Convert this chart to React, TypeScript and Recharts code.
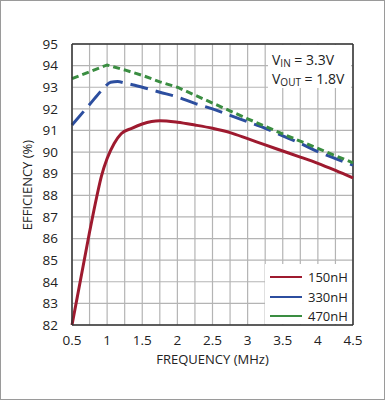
import React from 'react';
import { LineChart, Line, XAxis, YAxis, CartesianGrid, ReferenceLine } from 'recharts';

// frequency grid (MHz), every quarter; only the half steps are labelled
const freqTicks = [0.5, 0.75, 1, 1.25, 1.5, 1.75, 2, 2.25, 2.5, 2.75, 3, 3.25, 3.5, 3.75, 4, 4.25, 4.5];
const effTicks = [82, 83, 84, 85, 86, 87, 88, 89, 90, 91, 92, 93, 94, 95];

// 150nH
const freq150 = [0.5, 0.75, 0.85, 0.92, 1.0, 1.1, 1.2, 1.35, 1.5, 1.75, 2.0, 2.25, 2.5, 2.75, 3.0, 3.25, 3.5, 3.75, 4.0, 4.25, 4.5];
const eff150 = [82.0, 86.3, 87.9, 88.9, 89.7, 90.4, 90.85, 91.1, 91.3, 91.45, 91.38, 91.25, 91.1, 90.9, 90.62, 90.33, 90.05, 89.77, 89.48, 89.15, 88.8];

// 330nH
const freq330 = [0.5, 0.75, 0.95, 1.05, 1.15, 1.25, 1.5, 1.75, 2.0, 2.25, 2.5, 2.75, 3.0, 3.25, 3.5, 3.75, 4.0, 4.25, 4.5];
const eff330 = [91.25, 92.2, 92.95, 93.23, 93.26, 93.2, 93.0, 92.77, 92.55, 92.25, 92.0, 91.7, 91.4, 91.1, 90.75, 90.4, 90.02, 89.7, 89.4];

// 470nH
const freq470 = [0.5, 1.0, 1.25, 1.5, 1.75, 2.0, 2.5, 3.0, 3.5, 4.0, 4.5];
const eff470 = [93.4, 94.03, 93.8, 93.55, 93.25, 93.0, 92.27, 91.54, 90.84, 90.17, 89.5];

const RED = '#9e1a2f';
const BLUE = '#2c4e9f';
const GREEN = '#3a8d41';
const FONT = '"Open Sans", "Noto Sans", sans-serif';

const toPoints = (xs: number[], ys: number[]) => xs.map((f, i) => ({ f, v: ys[i] }));

const series = [
    { name: '150nH', color: RED, data: toPoints(freq150, eff150), dash: undefined, type: 'monotone' as const },
    { name: '330nH', color: BLUE, data: toPoints(freq330, eff330), dash: '18 8', type: 'monotone' as const },
    { name: '470nH', color: GREEN, data: toPoints(freq470, eff470), dash: '7 4', type: 'linear' as const },
];

const fmtFreq = (v: number) => ((v * 2) % 1 === 0 ? String(v) : '');

export default function App() {
    return (
        <div style={{ position: 'absolute', left: 0, top: 0, width: 385, height: 400, background: '#fff', fontFamily: FONT }}>
            <div style={{ position: 'absolute', left: 0, top: 0, width: 385, height: 400, boxSizing: 'border-box', border: '1px solid #9a9a9a' }} />
            <LineChart width={385} height={400} margin={{ top: 44, right: 32, bottom: 45, left: 0 }}>
                <CartesianGrid stroke="#b4b4b4" strokeWidth={1.2} />
                <XAxis
                    type="number"
                    dataKey="f"
                    domain={[0.5, 4.5]}
                    ticks={freqTicks}
                    interval={0}
                    tickFormatter={fmtFreq}
                    tickLine={false}
                    tickMargin={4}
                    height={30}
                    axisLine={{ stroke: '#333', strokeWidth: 1.5 }}
                    tick={{ fill: '#222', fontSize: 13.5, fontFamily: FONT }}
                    allowDuplicatedCategory={false}
                />
                <YAxis
                    type="number"
                    domain={[82, 95]}
                    ticks={effTicks}
                    interval={0}
                    width={72}
                    tickLine={false}
                    tickMargin={8}
                    axisLine={{ stroke: '#333', strokeWidth: 1.5 }}
                    tick={{ fill: '#222', fontSize: 13.5, fontFamily: FONT }}
                />
                <ReferenceLine y={95} stroke="#333" strokeWidth={1.5} />
                <ReferenceLine x={4.5} stroke="#333" strokeWidth={1.5} />
                {series.map((s) => (
                    <Line
                        key={s.name}
                        data={s.data}
                        dataKey="v"
                        type={s.type}
                        stroke={s.color}
                        strokeWidth={3}
                        strokeDasharray={s.dash}
                        dot={false}
                        isAnimationActive={false}
                    />
                ))}
            </LineChart>

            {/* axis titles */}
            <div style={{ position: 'absolute', left: 72, width: 281, top: 350, lineHeight: '18px', textAlign: 'center', fontSize: 13, color: '#222' }}>
                FREQUENCY (MHz)
            </div>
            <div style={{ position: 'absolute', left: 27, top: 185, transform: 'translate(-50%, -50%) rotate(-90deg)', whiteSpace: 'nowrap', fontSize: 13, color: '#222' }}>
                EFFICIENCY (%)
            </div>

            {/* conditions box */}
            <div style={{ position: 'absolute', left: 268, top: 45, width: 83, height: 43, background: '#fff', fontSize: 14, color: '#222', lineHeight: '16px', paddingTop: 7, paddingLeft: 4, boxSizing: 'border-box' }}>
                <div>V<sub style={{ fontSize: 10, verticalAlign: '-2px' }}>IN</sub> = 3.3V</div>
                <div>V<sub style={{ fontSize: 10, verticalAlign: '-2px' }}>OUT</sub> = 1.8V</div>
            </div>

            {/* legend */}
            <div style={{ position: 'absolute', left: 265, top: 264, width: 87, height: 60, background: '#fff', fontSize: 13, color: '#222' }}>
                {series.map((s, i) => (
                    <div key={s.name} style={{ position: 'absolute', left: 0, top: 4 + i * 19.5, height: 18, display: 'flex', alignItems: 'center' }}>
                        <svg width={40} height={18}>
                            <line x1={5} x2={37} y1={9} y2={9} stroke={s.color} strokeWidth={2} />
                        </svg>
                        <span style={{ marginLeft: 3 }}>{s.name}</span>
                    </div>
                ))}
            </div>
        </div>
    );
}
